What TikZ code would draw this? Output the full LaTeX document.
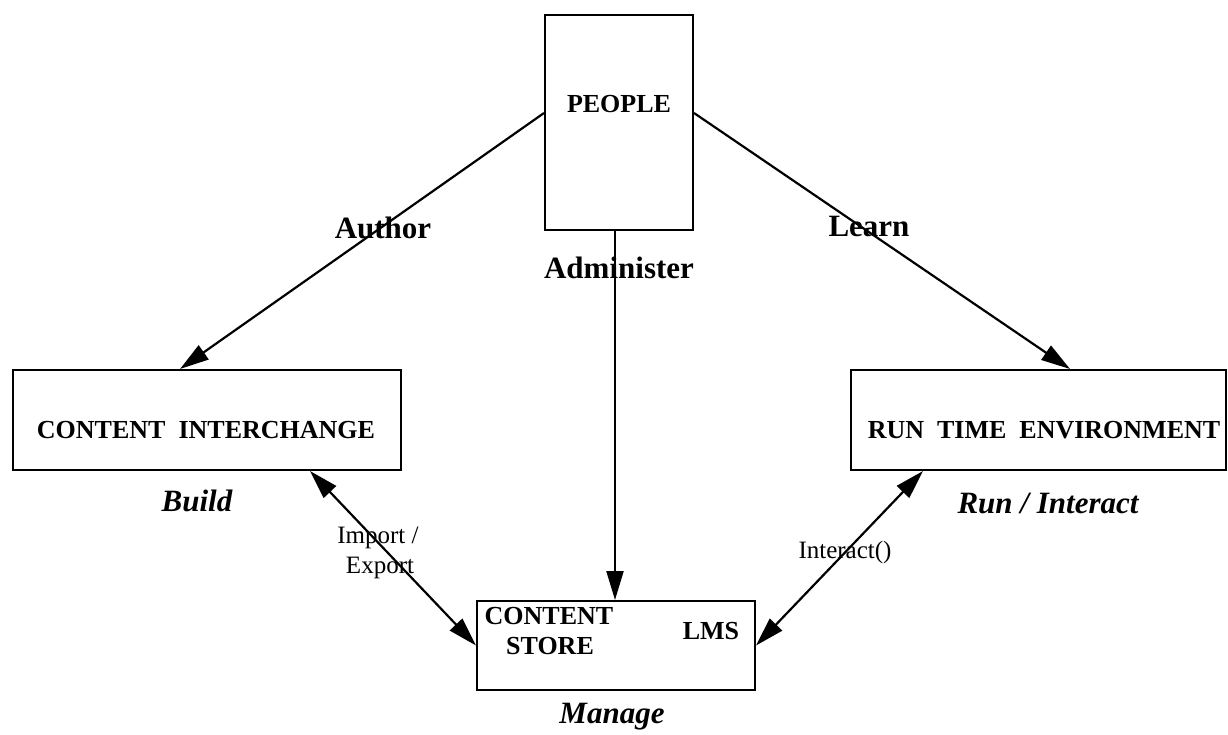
\documentclass[tikz,border=0pt]{standalone}
\usepackage{fontspec}
\setmainfont{Liberation Serif}
\usetikzlibrary{arrows.meta}
\begin{document}
\begin{tikzpicture}[x=1pt,y=-1pt,
  box/.style={draw, line width=2pt, inner sep=0pt},
  boxtext/.style={inner sep=0pt, anchor=base, font=\fontsize{26}{30}\selectfont\bfseries},
  biglabel/.style={inner sep=0pt, anchor=base, font=\fontsize{31}{36}\selectfont\bfseries},
  phase/.style={inner sep=0pt, anchor=base, font=\fontsize{31}{36}\selectfont\bfseries\itshape},
  small/.style={inner sep=0pt, anchor=base, font=\fontsize{25}{31}\selectfont},
  arr/.style={line width=2.2pt, -{Triangle[length=29pt,width=17pt]}},
  darr/.style={line width=2.2pt, {Triangle[length=29pt,width=17pt]}-{Triangle[length=29pt,width=17pt]}}
]
\useasboundingbox (0,0) rectangle (1228,735);
% boxes
\node[box, minimum width=148pt, minimum height=215pt] (people) at (619,122.5) {};
\node[box, minimum width=388pt, minimum height=100pt] (ci) at (207,420) {};
\node[box, minimum width=375pt, minimum height=100pt] (rte) at (1038.5,420) {};
\node[box, minimum width=278pt, minimum height=89pt] (lms) at (616,645.5) {};
% box texts
\node[boxtext] (tpeople) at (619,113) {PEOPLE};
\node[boxtext] (tci) at (206,438) {CONTENT\ \ INTERCHANGE};
\node[boxtext] (trte) at (1044,438) {RUN\ \ TIME\ \ ENVIRONMENT};
\node[boxtext] (tcontent) at (549,624) {CONTENT};
\node[boxtext] (tstore) at (550,654) {STORE};
\node[boxtext] (tlms) at (711,639) {LMS};
% labels
\node[biglabel] (author) at (383,239) {Author};
\node[biglabel] (learn) at (869,237) {Learn};
\node[biglabel] (admin) at (619,279) {Administer};
\node[phase] (build) at (197,511) {Build};
\node[phase] (run) at (1048,513) {Run / Interact};
\node[phase] (manage) at (612,723) {Manage};
\node[small] (import) at (378,543) {Import /};
\node[small] (export) at (380,573) {Export};
\node[small] (interact) at (845,558) {Interact()};
% connectors
\draw[arr] ([yshift=9.5pt]people.west) -- ([xshift=-27pt]ci.north);
\draw[arr] ([yshift=9.5pt]people.east) -- ([xshift=31.5pt]rte.north);
\draw[arr] ([xshift=-4pt]people.south) -- ([xshift=-4pt]people.south |- lms.north);
\draw[darr] ([xshift=103pt]ci.south) -- (lms.west);
\draw[darr] ([xshift=-115.5pt]rte.south) -- (lms.east);
\end{tikzpicture}
\end{document}
